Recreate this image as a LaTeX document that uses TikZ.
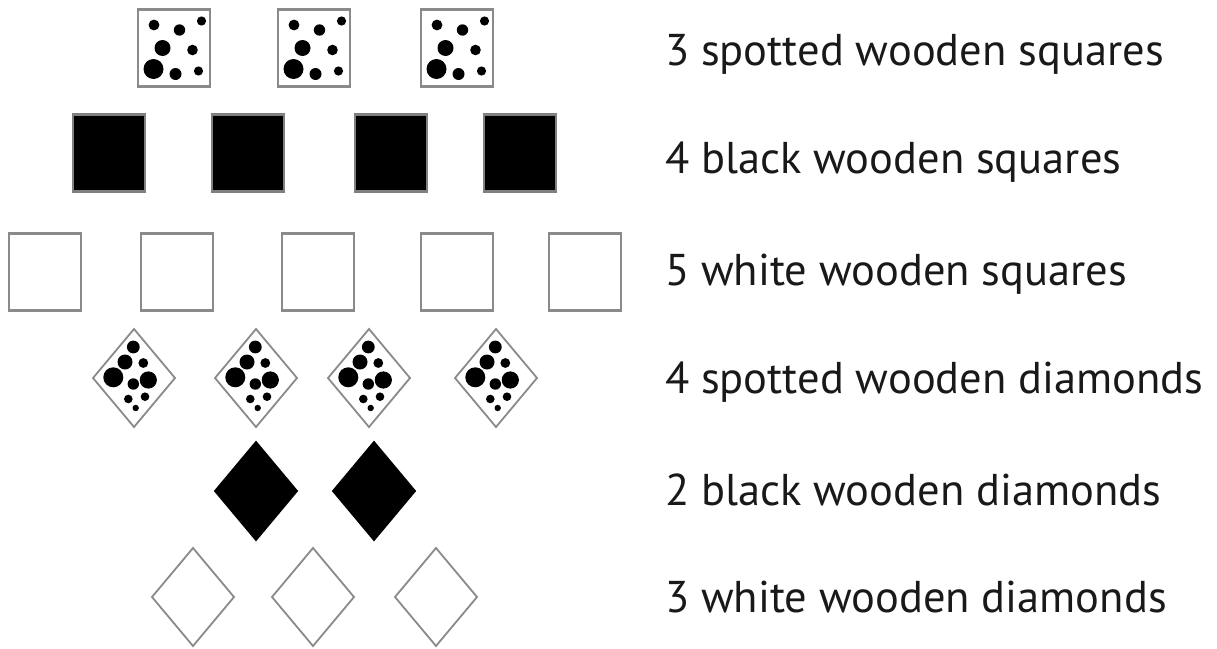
\documentclass[tikz,border=0pt]{standalone}
\usepackage{fontspec}
\setmainfont{PT Sans}
\usepackage{tikz}
\usetikzlibrary{shapes.geometric}

\definecolor{edgegray}{HTML}{8A8A8A}

\tikzset{
  sqspots/.pic={
    \fill (-20,-23) circle (5.4pt) (5.5,-18) circle (5.7pt) (27.5,-27) circle (4.6pt)
          (-11.5,0) circle (8pt) (18.5,2) circle (5.3pt)
          (-20.5,21) circle (10pt) (1.5,26) circle (6pt) (24.5,23) circle (4.6pt);
  },
  kitespots/.pic={
    \fill (-0.7,-31) circle (6.4pt) (-9,-16) circle (7.5pt) (9.3,-15) circle (4.9pt)
          (-20.7,-0.7) circle (10pt) (-0.7,6) circle (5.7pt) (14.3,2) circle (8.6pt)
          (-5.7,21) circle (4.3pt) (11,18.7) circle (4.3pt) (1.7,30) circle (3.2pt);
  }
}

\begin{document}
\begin{tikzpicture}[
  x=1pt, y=-1pt,
  every node/.style={inner sep=0pt, outer sep=0pt},
  box/.style={draw=edgegray, line width=2.5pt, minimum width=72pt, minimum height=77pt},
  blackbox/.style={box, fill=black, draw=gray},
  kite/.style={diamond, draw=edgegray, line width=1.8pt, minimum width=82pt, minimum height=98pt},
  blackkite/.style={kite, fill=black, draw=black},
  rowtext/.style={anchor=base west, text=black!90, font=\fontsize{44.5}{50}\selectfont}
]
\useasboundingbox (0,0) rectangle (1217,648);

% squares
\foreach \x [count=\i] in {174,314,457}
  \node[box] (spotsq\i) at (\x,48) {};
\foreach \x [count=\i] in {109,248,391,520}
  \node[blackbox] (blacksq\i) at (\x,153) {};
\foreach \x [count=\i] in {45,177,318,457,585}
  \node[box] (whitesq\i) at (\x,272) {};

% diamonds
\foreach \x [count=\i] in {134,256,369,496}
  \node[kite] (spotdm\i) at (\x,378) {};
\foreach \x [count=\i] in {256,374}
  \node[blackkite] (blackdm\i) at (\x,491) {};
\foreach \x [count=\i] in {193,313,436}
  \node[kite] (whitedm\i) at (\x,597) {};

% spots
\foreach \i in {1,2,3}
  \pic at (spotsq\i) {sqspots};
\foreach \i in {1,...,4}
  \pic at (spotdm\i) {kitespots};

% labels
\node[rowtext] (txt1) at (665,65)  {3 spotted wooden squares};
\node[rowtext] (txt2) at (665,173) {4 black wooden squares};
\node[rowtext] (txt3) at (665,285) {5 white wooden squares};
\node[rowtext] (txt4) at (665,393) {4 spotted wooden diamonds};
\node[rowtext] (txt5) at (665,505) {2 black wooden diamonds};
\node[rowtext] (txt6) at (665,612) {3 white wooden diamonds};
\end{tikzpicture}
\end{document}
